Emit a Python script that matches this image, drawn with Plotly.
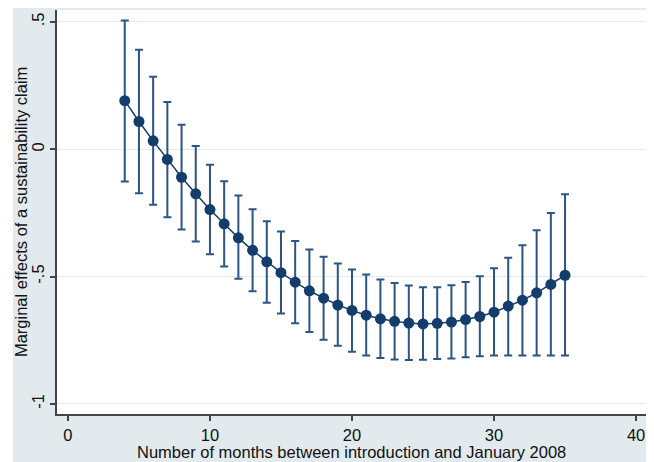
import plotly.graph_objects as go

months = list(range(4, 36))
effect = [0.191, 0.109, 0.033, -0.040, -0.110, -0.175, -0.237, -0.293, -0.348, -0.397,
          -0.442, -0.485, -0.522, -0.556, -0.585, -0.612, -0.633, -0.652, -0.666, -0.676,
          -0.683, -0.686, -0.684, -0.679, -0.669, -0.657, -0.640, -0.616, -0.593, -0.564,
          -0.531, -0.495]
ci_upper = [0.506, 0.391, 0.285, 0.186, 0.096, 0.013, -0.061, -0.126, -0.182, -0.236,
            -0.283, -0.323, -0.360, -0.394, -0.422, -0.449, -0.472, -0.492, -0.512, -0.525,
            -0.535, -0.542, -0.542, -0.534, -0.521, -0.499, -0.467, -0.426, -0.377, -0.318,
            -0.250, -0.177]
ci_lower = [-0.127, -0.173, -0.218, -0.267, -0.315, -0.362, -0.412, -0.461, -0.509, -0.558,
            -0.603, -0.645, -0.684, -0.718, -0.748, -0.772, -0.795, -0.810, -0.820, -0.826,
            -0.828, -0.827, -0.824, -0.822, -0.817, -0.813, -0.810, -0.810, -0.810, -0.810,
            -0.810, -0.810]
y_tickvals = [0.5, 0, -0.5, -1]
y_ticktext = [".5", "0", "-.5", "-1"]
x_tickvals = [0, 10, 20, 30, 40]
x_title = "Number of months between introduction and January 2008"
y_title = "Marginal effects of a sustainability claim"

navy = "#143d6b"
bar_col = "#2c5485"
region = "#e2eaee"
font = "Liberation Sans, Arial, sans-serif"

fig = go.Figure()
fig.add_trace(go.Scatter(
    x=months, y=effect, mode="markers",
    marker=dict(size=0.1, color="rgba(0,0,0,0)"),
    error_y=dict(type="data", symmetric=False,
                 array=[u - e for u, e in zip(ci_upper, effect)],
                 arrayminus=[e - l for e, l in zip(effect, ci_lower)],
                 color=bar_col, thickness=2, width=4),
    showlegend=False, hoverinfo="skip"))
fig.add_trace(go.Scatter(
    x=months, y=effect, mode="lines+markers",
    line=dict(color=navy, width=1.5),
    marker=dict(size=11, color=navy),
    showlegend=False))

# white page strips outside the graph region (left and right)
fig.add_shape(type="rect", xref="paper", yref="paper",
              x0=-0.09, x1=-0.0747, y0=-0.13, y1=1.01,
              fillcolor="white", line=dict(width=0), layer="above")
fig.add_shape(type="rect", xref="paper", yref="paper",
              x0=1.0017, x1=1.02, y0=-0.13, y1=1.01,
              fillcolor="white", line=dict(width=0), layer="above")

fig.add_annotation(text=x_title, xref="paper", yref="paper", x=0.5, y=-0.094,
                   xanchor="center", yanchor="middle", showarrow=False,
                   font=dict(size=16.5, family=font, color="#111111"))
fig.add_annotation(text=y_title, xref="paper", yref="paper", x=-0.061, y=0.5,
                   xanchor="center", yanchor="middle", showarrow=False, textangle=-90,
                   font=dict(size=16.5, family=font, color="#111111"))

fig.update_layout(
    width=646, height=454,
    margin=dict(l=49, r=8, t=2, b=48, pad=0),
    paper_bgcolor=region, plot_bgcolor="white",
    font=dict(family=font, size=16.5, color="#111111"),
    xaxis=dict(range=[-0.77, 40.7], tickvals=x_tickvals, ticks="outside", ticklen=5,
               tickcolor="#444444", tickwidth=1.5,
               showgrid=False, zeroline=False, showline=True, linecolor="#444444", linewidth=1.5,
               automargin=False),
    yaxis=dict(range=[-1.04, 0.547], tickvals=y_tickvals, ticktext=y_ticktext,
               tickangle=-90, ticks="outside", ticklen=5, tickcolor="#444444", tickwidth=1.5,
               showgrid=True, gridcolor="#e3eaee", gridwidth=1.2, zeroline=False,
               showline=True, linecolor="#444444", linewidth=1.5,
               automargin=False),
)

fig.write_html("out.html")
